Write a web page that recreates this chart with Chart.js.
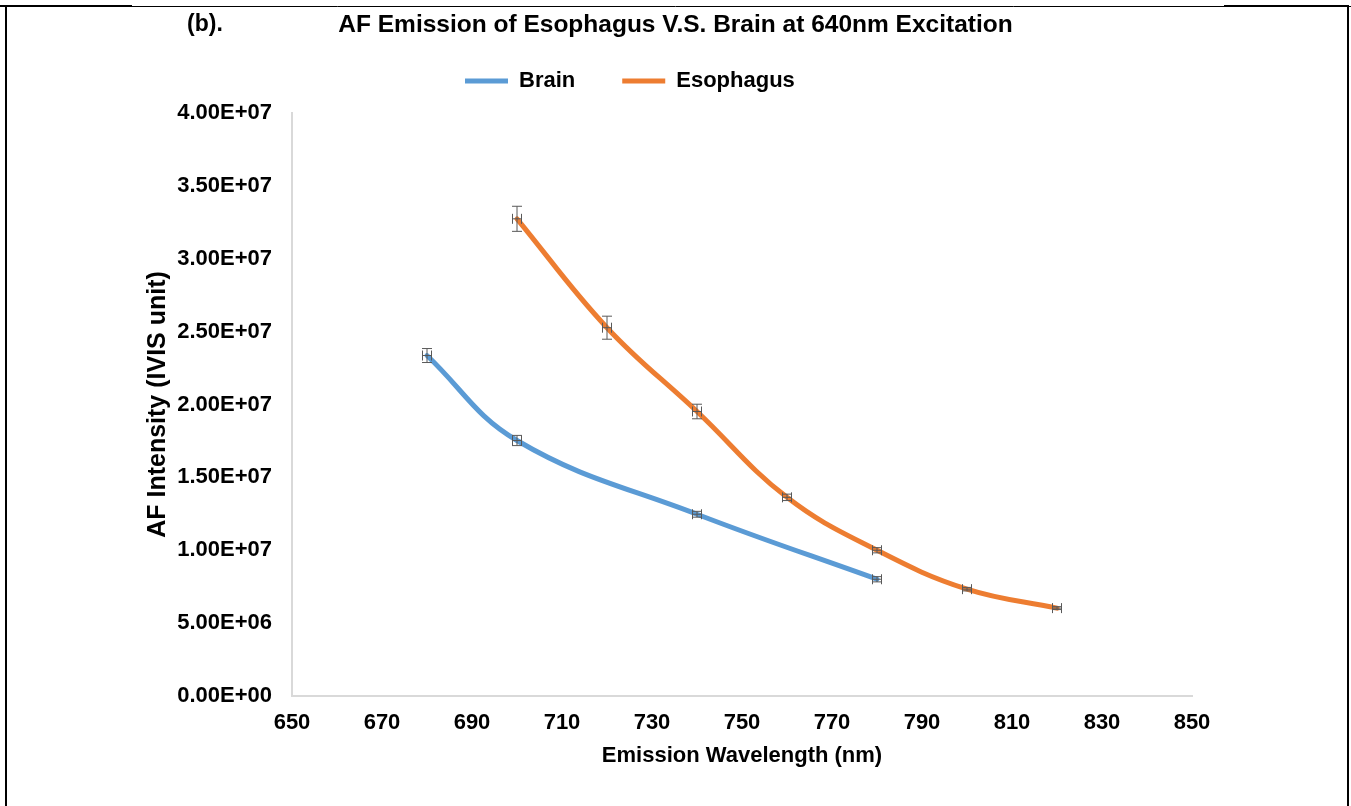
<!DOCTYPE html>
<html>
<head>
<meta charset="utf-8">
<script src="https://cdn.jsdelivr.net/npm/chart.js@4"></script>
<style>
  html, body { margin: 0; padding: 0; background: #fff; }
  #chartContainer { width: 1351px; height: 806px; }
</style>
</head>
<body>
<div id="chartContainer"><canvas id="myChart" width="1351" height="806"></canvas></div>
<script>
// data
var seriesNames = ['Brain', 'Esophagus'];
var seriesColors = ['#5B9BD5', '#ED7D31'];
var brainWl = [680, 700, 740, 780];
var brainAF = [2.336e7, 1.753e7, 1.247e7, 0.801e7];
var brainErr = [0.048e7, 0.035e7, 0.02e7, 0.018e7];
var esoWl = [700, 720, 740, 760, 780, 800, 820];
var esoAF = [3.274e7, 2.527e7, 1.952e7, 1.363e7, 1.0e7, 0.733e7, 0.603e7];
var esoErr = [0.086e7, 0.079e7, 0.05e7, 0.022e7, 0.018e7, 0.012e7, 0.01e7];
var wlErr = 1;
var xRange = [650, 850, 20];
var yRange = [0, 4e7, 5e6];

var FONT = '"Liberation Sans", Arial, sans-serif';

function toPoints(xs, ys) {
  var out = [];
  for (var i = 0; i < xs.length; i++) out.push({x: xs[i], y: ys[i]});
  return out;
}

function sci(v) {
  if (v === 0) return '0.00E+00';
  var e = Math.floor(Math.log10(v) + 1e-9);
  var m = v / Math.pow(10, e);
  return m.toFixed(2) + 'E+' + (e < 10 ? '0' : '') + e;
}

function drawErrors(chart, wl, af, err) {
  var xs = chart.scales.x, ys = chart.scales.y, ctx = chart.ctx;
  ctx.save();
  ctx.strokeStyle = '#595959';
  ctx.lineWidth = 1;
  for (var i = 0; i < wl.length; i++) {
    var px = xs.getPixelForValue(wl[i]);
    var py = ys.getPixelForValue(af[i]);
    var t = ys.getPixelForValue(af[i] + err[i]);
    var b = ys.getPixelForValue(af[i] - err[i]);
    var l = xs.getPixelForValue(wl[i] - wlErr);
    var r = xs.getPixelForValue(wl[i] + wlErr);
    ctx.beginPath();
    ctx.moveTo(px, t); ctx.lineTo(px, b);
    ctx.moveTo(px - 5, t); ctx.lineTo(px + 5, t);
    ctx.moveTo(px - 5, b); ctx.lineTo(px + 5, b);
    ctx.moveTo(l, py); ctx.lineTo(r, py);
    ctx.moveTo(l, py - 5); ctx.lineTo(l, py + 5);
    ctx.moveTo(r, py - 5); ctx.lineTo(r, py + 5);
    ctx.stroke();
  }
  ctx.restore();
}

var extras = {
  id: 'extras',
  beforeDraw: function(chart) {
    var ctx = chart.ctx;
    ctx.save();
    ctx.fillStyle = '#fff';
    ctx.fillRect(0, 0, chart.width, chart.height);
    ctx.restore();
    // title over the whole page, legend where the figure has it
    chart.titleBlock.left = 0;
    chart.titleBlock.right = chart.width;
    chart.legend.left = 465 - 47;
    chart.legend.top = 23;
  },
  afterDatasetsDraw: function(chart) {
    drawErrors(chart, brainWl, brainAF, brainErr);
    drawErrors(chart, esoWl, esoAF, esoErr);
  },
  afterDraw: function(chart) {
    var ctx = chart.ctx;
    ctx.save();
    ctx.fillStyle = '#000';
    ctx.font = 'bold 23px ' + FONT;
    ctx.textAlign = 'center';
    ctx.textBaseline = 'middle';
    ctx.fillText('(b).', 205, 25);
    // page frame
    ctx.strokeStyle = '#000';
    ctx.lineWidth = 1;
    ctx.beginPath();
    ctx.moveTo(0, 6.5); ctx.lineTo(chart.width, 6.5);
    ctx.stroke();
    ctx.lineWidth = 2;
    ctx.beginPath();
    ctx.moveTo(0, 6); ctx.lineTo(132, 6);
    ctx.moveTo(1224, 6); ctx.lineTo(1348, 6);
    ctx.moveTo(6, 5); ctx.lineTo(6, chart.height);
    ctx.moveTo(1348, 5); ctx.lineTo(1348, chart.height);
    ctx.stroke();
    ctx.restore();
  }
};

var ctx = document.getElementById('myChart').getContext('2d');
var myChart = new Chart(ctx, {
  type: 'scatter',
  data: {
    datasets: [{
      label: seriesNames[0],
      data: toPoints(brainWl, brainAF),
      borderColor: seriesColors[0],
      backgroundColor: seriesColors[0],
      borderWidth: 5,
      borderCapStyle: 'round',
      showLine: true,
      tension: 0.4,
      pointRadius: 0,
      fill: false
    }, {
      label: seriesNames[1],
      data: toPoints(esoWl, esoAF),
      borderColor: seriesColors[1],
      backgroundColor: seriesColors[1],
      borderWidth: 5,
      borderCapStyle: 'round',
      showLine: true,
      tension: 0.4,
      pointRadius: 0,
      fill: false
    }]
  },
  options: {
    responsive: false,
    animation: false,
    devicePixelRatio: 1,
    layout: { padding: { left: 0, right: 159, top: 0, bottom: 0 } },
    plugins: {
      title: {
        display: true,
        text: 'AF Emission of Esophagus V.S. Brain at 640nm Excitation',
        color: '#000',
        font: { family: FONT, size: 24.5, weight: 'bold' },
        padding: { top: 11, bottom: 0 }
      },
      legend: {
        display: true,
        align: 'start',
        maxHeight: 72.6,
        labels: {
          color: '#000',
          font: { family: FONT, size: 22, weight: 'bold' },
          usePointStyle: true,
          pointStyle: 'line',
          pointStyleWidth: 43,
          padding: 47
        }
      },
      tooltip: { enabled: false }
    },
    scales: {
      x: {
        type: 'linear',
        min: xRange[0],
        max: xRange[1],
        afterFit: function(scale) { scale.height = 110; },
        ticks: {
          stepSize: xRange[2],
          color: '#000',
          padding: 14,
          font: { family: FONT, size: 22, weight: 'bold' }
        },
        grid: { display: true, drawOnChartArea: false, drawTicks: false },
        border: { display: true, color: '#D9D9D9', width: 2 },
        title: {
          display: true,
          text: 'Emission Wavelength (nm)',
          color: '#000',
          font: { family: FONT, size: 22, weight: 'bold' },
          padding: { top: 0, bottom: 37 }
        }
      },
      y: {
        type: 'linear',
        min: yRange[0],
        max: yRange[1],
        afterFit: function(scale) { scale.width = 292; },
        ticks: {
          stepSize: yRange[2],
          color: '#000',
          padding: 20,
          font: { family: FONT, size: 22, weight: 'bold' },
          callback: function(v) { return sci(v); }
        },
        grid: { display: true, drawOnChartArea: false, drawTicks: false },
        border: { display: true, color: '#D9D9D9', width: 2 },
        title: {
          display: true,
          text: 'AF Intensity (IVIS unit)',
          color: '#000',
          font: { family: FONT, size: 25, weight: 'bold' },
          padding: { top: 143, bottom: 0 }
        }
      }
    }
  },
  plugins: [extras]
});
</script>
</body>
</html>
